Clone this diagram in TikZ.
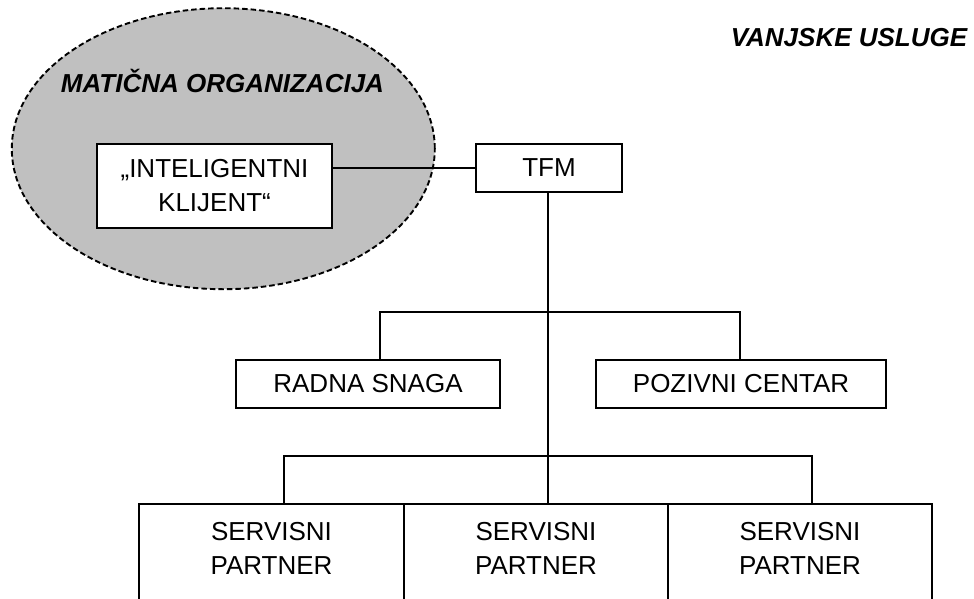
\documentclass[tikz,border=0pt]{standalone}
\usepackage{fontspec}
\setmainfont{Liberation Sans}
\usetikzlibrary{shapes.geometric}
\definecolor{orggray}{HTML}{C0C0C0}
\begin{document}
\begin{tikzpicture}[x=1pt,y=-1pt,
  every node/.style={font=\fontsize{26}{34}\selectfont},
  box/.style={draw=black,line width=2pt,fill=white,inner sep=0pt,align=center},
  conn/.style={draw=black,line width=1.9pt},
  heading/.style={font=\fontsize{26}{34}\selectfont\bfseries\itshape},
  lbl/.style={align=center,inner sep=0pt}]
\useasboundingbox (0,0) rectangle (974,598);
\clip (0,0) rectangle (974,598);
% parent organisation
\node[ellipse,draw=black,dashed,dash pattern=on 5.5pt off 3pt,line width=1.9pt,fill=orggray,
  minimum width=423,minimum height=281,inner sep=0pt] (org) at (223.3,148.7) {};
\node[heading] (orgt) at (222.5,81) {MATIČNA ORGANIZACIJA};
\node[heading] (ext) at (849,37.5) {VANJSKE USLUGE};
% boxes
\node[box,minimum width=235,minimum height=84] (ik) at (214.5,186) {„INTELIGENTNI\\KLIJENT“};
\node[box,minimum width=146,minimum height=48] (tfm) at (549,168) {TFM};
\node[box,minimum width=264,minimum height=48] (rs) at (368,384) {RADNA SNAGA};
\node[box,minimum width=290,minimum height=48] (pc) at (741,384) {POZIVNI CENTAR};
\node[box,minimum width=265,minimum height=120] (sp1) at (271.5,564) {};
\node[box,minimum width=264,minimum height=120] (sp2) at (536,564) {};
\node[box,minimum width=264,minimum height=120] (sp3) at (800,564) {};
\node[lbl] (sp1t) at (271.5,548.5) {SERVISNI\\PARTNER};
\node[lbl] (sp2t) at (536,548.5) {SERVISNI\\PARTNER};
\node[lbl] (sp3t) at (800,548.5) {SERVISNI\\PARTNER};
% junction coordinates
\coordinate (j1) at (548,312);
\coordinate (d1l) at (380,312);
\coordinate (d1r) at (740,312);
\coordinate (j2) at (548,456);
\coordinate (d2l) at (284,456);
\coordinate (d2r) at (812,456);
% connectors
\draw[conn] (tfm.west) -- (tfm.west -| ik.east);
\draw[conn] (tfm.south -| j1) -- (sp2.north -| j1);
\draw[conn] (rs.north -| d1l) -- (d1l) -- (d1r) -- (pc.north -| d1r);
\draw[conn] (sp1.north -| d2l) -- (d2l) -- (d2r) -- (sp3.north -| d2r);
\end{tikzpicture}
\end{document}
